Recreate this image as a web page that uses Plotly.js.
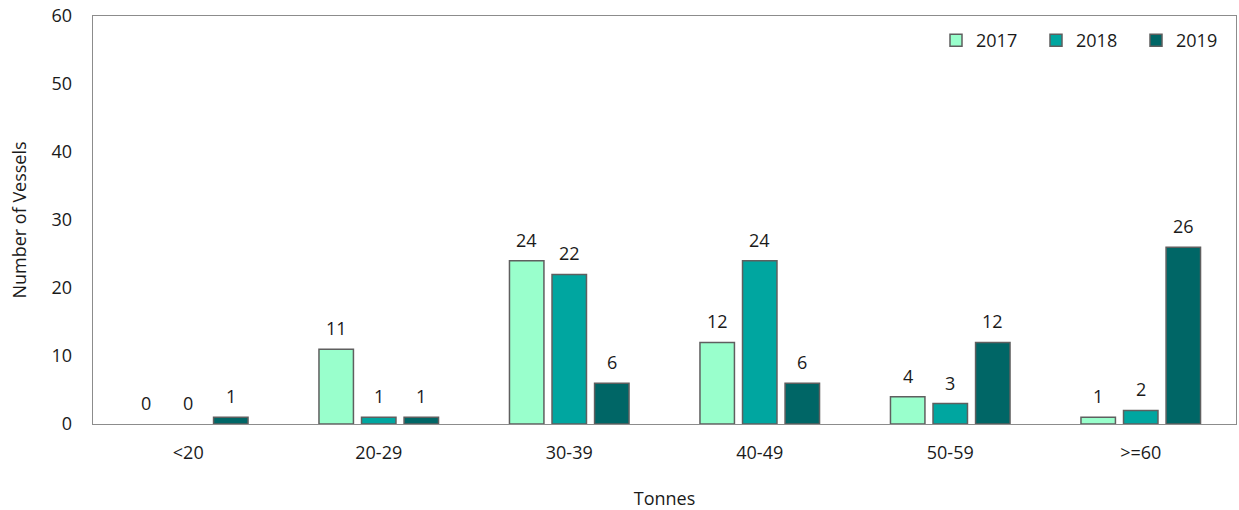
<!DOCTYPE html>
<html>
<head>
<meta charset="utf-8">
<script src="https://cdn.plot.ly/plotly-3.0.1.min.js"></script>
<style>html,body{margin:0;padding:0;background:#fff;}#chart{width:1239px;height:510px;}</style>
</head>
<body>
<div id="chart"></div>
<script>
var categories = ["<20", "20-29", "30-39", "40-49", "50-59", ">=60"];
var years = ["2017", "2018", "2019"];
var values2017 = [0, 11, 24, 12, 4, 1];
var values2018 = [0, 1, 22, 24, 3, 2];
var values2019 = [1, 1, 6, 6, 12, 26];
var colors = ["#99FFCC", "#00A6A0", "#006666"];
var series = [values2017, values2018, values2019];
var FONT = "'Open Sans', sans-serif";
var TXT = "#1a1a1a";

var W = 1239, H = 510, ML = 93, MR = 3;
var BARGAP = 0.33;
var catW = (W - ML - MR) / categories.length;
var slot = catW * (1 - BARGAP) / series.length;

var traces = series.map(function (vals, i) {
  return {
    type: "bar",
    name: years[i],
    x: categories,
    // zero-height bars are not drawn (no outline on the axis), their "0" label stays
    y: vals.map(function (v) { return v === 0 ? null : v; }),
    marker: { color: colors[i], line: { color: "#5f5f5f", width: 1.5 } },
    hoverinfo: "x+y+name"
  };
});

var annotations = [];
series.forEach(function (vals, i) {
  vals.forEach(function (v, j) {
    annotations.push({
      x: categories[j], y: v, xref: "x", yref: "y",
      text: String(v), showarrow: false,
      xshift: (i - (series.length - 1) / 2) * slot,
      yanchor: "middle", yshift: 21,
      font: { family: FONT, size: 18, color: TXT }
    });
  });
});

var layout = {
  width: W, height: H,
  margin: { l: ML, r: MR, t: 16, b: 86 },
  paper_bgcolor: "#ffffff", plot_bgcolor: "#ffffff",
  font: { family: FONT, size: 18, color: TXT },
  barmode: "group",
  bargap: BARGAP,
  bargroupgap: 0.19,
  showlegend: true,
  annotations: annotations,
  legend: {
    orientation: "h", x: 1, xanchor: "right", y: 0.94, yanchor: "middle",
    font: { family: FONT, size: 18, color: TXT },
    bgcolor: "rgba(0,0,0,0)", itemwidth: 30, traceorder: "normal",
    entrywidth: 55, entrywidthmode: "pixels"
  },
  xaxis: {
    type: "category",
    showline: true, linecolor: "#8c8c8c", linewidth: 1.3, mirror: true,
    ticks: "", showgrid: false, zeroline: false,
    tickfont: { family: FONT, size: 18, color: TXT },
    ticklabelstandoff: 12,
    title: { text: "Tonnes", font: { family: FONT, size: 18, color: TXT }, standoff: 30 }
  },
  yaxis: {
    range: [0, 60], dtick: 10,
    showline: true, linecolor: "#8c8c8c", linewidth: 1.3, mirror: true,
    ticks: "", showgrid: false, zeroline: false,
    tickfont: { family: FONT, size: 18, color: TXT },
    ticklabelstandoff: 16,
    title: { text: "Number of Vessels", font: { family: FONT, size: 18, color: TXT }, standoff: 20 }
  }
};

Plotly.newPlot("chart", traces, layout, { displayModeBar: false, staticPlot: true });
</script>
</body>
</html>
